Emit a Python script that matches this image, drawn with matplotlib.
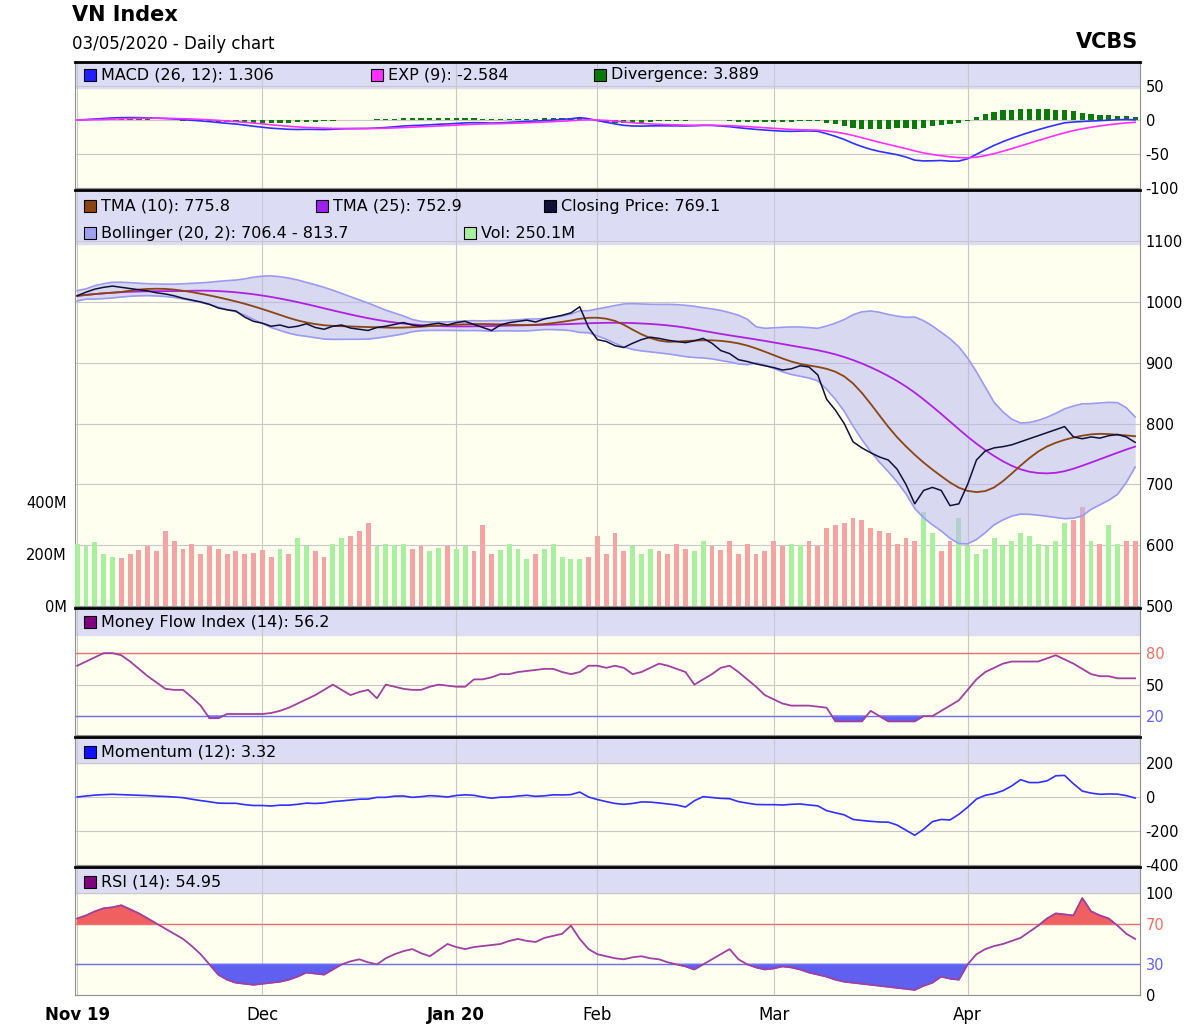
import numpy as np
import pandas as pd
import matplotlib
matplotlib.use("Agg")
import matplotlib.pyplot as plt
from matplotlib.patches import Rectangle
plt.rcParams["axes.unicode_minus"] = False

close = [1010,1016,1021,1024,1026,1024,1022,1020,1018,1015,
         1013,1010,1006,1003,1000,996,990,987,985,975,
         968,965,960,962,958,960,964,958,955,960,
         962,957,955,953,958,960,963,966,962,960,
         963,965,962,966,968,963,958,953,962,966,
         968,970,967,972,975,978,982,992,958,938,
         935,928,925,932,938,942,940,937,935,933,
         936,940,932,920,915,905,902,898,895,892,
         888,890,895,893,880,840,822,800,770,760,
         752,745,740,725,700,668,690,695,690,665,
         668,700,740,755,760,762,765,770,775,780,
         785,790,795,778,775,778,776,780,782,778,
         769]
volume = [240,230,245,200,190,185,200,215,230,210,
          290,250,220,240,200,230,220,200,210,200,
          205,215,190,220,200,260,230,210,190,240,
          260,270,290,320,230,240,235,240,220,230,
          210,225,230,220,230,210,310,200,215,240,
          220,180,200,220,240,190,180,180,190,270,
          200,280,210,230,200,220,210,200,240,220,
          210,250,230,215,250,200,240,200,210,250,
          230,240,235,250,230,300,310,320,340,330,
          300,290,280,240,260,250,360,280,210,250,
          340,230,200,220,260,230,250,280,270,240,
          230,250,320,330,380,250,240,310,240,250,
          250]
mfi = [68,72,76,80,80,78,72,65,58,52,
       46,45,45,38,30,18,18,22,22,22,
       22,22,23,25,28,32,36,40,45,50,
       45,40,43,45,37,50,48,46,45,45,
       48,50,49,48,48,55,55,57,60,60,
       62,63,64,65,65,62,60,62,68,68,
       66,68,66,60,62,66,70,68,65,62,
       50,55,60,66,68,62,55,48,40,36,
       32,30,30,30,29,28,15,15,15,15,
       25,20,15,15,15,15,20,20,25,30,
       35,45,55,62,66,70,72,72,72,72,
       75,78,74,70,65,60,58,58,56,56,
       56]
rsi = [75,78,82,85,86,88,84,80,75,70,
       65,60,55,48,40,30,20,15,12,11,
       10,11,12,13,15,18,22,21,20,25,
       30,33,35,32,30,36,40,43,45,41,
       38,44,50,47,45,47,48,49,50,53,
       55,53,52,56,58,60,68,55,45,40,
       38,36,35,37,38,36,35,32,30,28,
       25,30,35,40,45,35,30,27,25,26,
       28,27,25,22,20,18,15,13,12,11,
       10,9,8,7,6,5,9,12,18,16,
       15,30,40,45,48,50,53,56,62,68,
       75,80,79,78,95,82,78,75,68,60,
       55]
months = ["Nov 19", "Dec", "Jan 20", "Feb", "Mar", "Apr"]
month_idx = [0, 21, 43, 59, 79, 101]

s = pd.Series(close, dtype=float)
n = len(s)
x = np.arange(n)
tma10 = s.rolling(5, min_periods=1).mean().rolling(6, min_periods=1).mean()
tma25 = s.rolling(13, min_periods=1).mean().rolling(13, min_periods=1).mean()
ma20 = s.rolling(20, min_periods=1).mean()
sd20 = s.rolling(20, min_periods=2).std().bfill()
bu, bl = ma20 + 2*sd20, ma20 - 2*sd20
macd = s.ewm(span=12, adjust=False).mean() - s.ewm(span=26, adjust=False).mean()
sig = macd.ewm(span=9, adjust=False).mean()
div = macd - sig
mom = s - s.shift(12).bfill()

W, H = 1200, 1031
fig = plt.figure(figsize=(12, 10.31), dpi=100)
L, R = 75/W, 1140/W
def mkax(top, bot):
    return fig.add_axes([L, 1-bot/H, R-L, (bot-top)/H])
bg = "#fffff0"; band = "#dcdcf4"
panels = [(62, 188), (190, 606), (608, 735), (737, 865), (867, 995)]
axs = [mkax(t, b) for t, b in panels]
xl = (-0.25, n-1+0.55)

def style(ax, top, bot, strip_px, ticks, ylim, tcolors=None):
    ax.set_facecolor(bg)
    ax.set_xlim(*xl); ax.set_ylim(*ylim)
    frac = strip_px/(bot-top)
    ax.add_patch(Rectangle((0, 1-frac), 1, frac, transform=ax.transAxes, color=band, zorder=0.5))
    ax.yaxis.tick_right()
    ax.set_yticks(ticks)
    ax.tick_params(axis="y", length=0, labelsize=10.5, pad=4)
    ax.set_xticks(month_idx); ax.tick_params(axis="x", length=0, labelbottom=False)
    ax.grid(True, color="#c8c8c8", lw=0.8, zorder=0.6)
    ax.set_axisbelow(True)
    for sp in ax.spines.values(): sp.set_color("#909090"); sp.set_linewidth(0.8)
    ax.spines["top"].set_color("black"); ax.spines["top"].set_linewidth(2)
    if tcolors:
        for lab, c in zip(ax.get_yticklabels(), tcolors): lab.set_color(c)

def legend(ax, items, y, top, bot):
    yy = 1 - (y - top)/(bot-top)
    for xp, col, txt in items:
        ax.plot([xp+0.005], [yy], marker="s", ms=8, mfc=col, mec="black", mew=0.8,
                transform=ax.transAxes, clip_on=False, zorder=10)
        ax.text(xp+0.015, yy, txt, transform=ax.transAxes, fontsize=11.5, va="center", zorder=10)

def fx(px): return (px-75)/(1140-75)

# MACD
ax = axs[0]
style(ax, 62, 188, 26, [50, 0, -50, -100], (-100, 85))
ax.bar(x, div, width=0.6, color="#0a7a0a", zorder=2)
ax.plot(x, macd, color="#3030ff", lw=1.2, zorder=3)
ax.plot(x, sig, color="#ff30ff", lw=1.2, zorder=3)
legend(ax, [(fx(85), "#2020ff", "MACD (26, 12): 1.306"), (fx(372), "#ff30ff", "EXP (9): -2.584"),
            (fx(595), "#0a7a0a", "Divergence: 3.889")], 75, 62, 188)

# Main
ax = axs[1]
style(ax, 190, 606, 54, [500, 600, 700, 800, 900, 1000, 1100], (500, 1184))
av = ax.twinx(); av.set_ylim(0, 1600e6); av.set_xlim(*xl)
ax.yaxis.tick_right()
av.yaxis.tick_left(); av.set_yticks([0, 200e6, 400e6]); av.set_yticklabels(["0M", "200M", "400M"])
av.tick_params(axis="y", length=0, labelsize=10.5, pad=6)
for sp in av.spines.values(): sp.set_visible(False)
vcol = ["#a8f0a0" if (i == 0 or close[i] >= close[i-1]) else "#f4a4a4" for i in range(n)]
av.bar(x, np.array(volume)*1e6, width=0.55, color=vcol, zorder=1)
av.set_zorder(ax.get_zorder()+1); av.patch.set_visible(False)
av.fill_between(x, bl, bu, color="#b8b8f0", alpha=0.55, lw=0, transform=ax.transData, zorder=2)
av.plot(x, bu, color="#9a9af0", lw=1.2, transform=ax.transData, zorder=3)
av.plot(x, bl, color="#9a9af0", lw=1.2, transform=ax.transData, zorder=3)
av.plot(x, tma25, color="#b020e0", lw=1.3, transform=ax.transData, zorder=4)
av.plot(x, tma10, color="#8b4513", lw=1.3, transform=ax.transData, zorder=4)
av.plot(x, s, color="#101038", lw=1.1, transform=ax.transData, zorder=5)
legend(av, [(fx(85), "#8b4513", "TMA (10): 775.8"), (fx(317), "#a020f0", "TMA (25): 752.9"),
            (fx(545), "#101038", "Closing Price: 769.1")], 206, 190, 606)
legend(av, [(fx(85), "#a0a0f0", "Bollinger (20, 2): 706.4 - 813.7"), (fx(465), "#a8f0a0", "Vol: 250.1M")], 233, 190, 606)

# MFI
ax = axs[2]
style(ax, 608, 735, 27, [20, 50, 80], (2, 123), ["#6060ff", "black", "#f07060"])
ax.axhline(80, color="#f07070", lw=1); ax.axhline(20, color="#7070ff", lw=1)
m = np.array(mfi, float)
ax.fill_between(x, m, 20, where=m < 20, color="#6060f0", interpolate=True)
ax.fill_between(x, m, 80, where=m > 80, color="#f06060", interpolate=True)
ax.plot(x, m, color="#a040a0", lw=1.3)
legend(ax, [(fx(85), "#800080", "Money Flow Index (14): 56.2")], 622, 608, 735)

# Momentum
ax = axs[3]
style(ax, 737, 865, 26, [200, 0, -200, -400], (-400, 353))
ax.plot(x, mom, color="#3030ff", lw=1.2)
legend(ax, [(fx(85), "#1010ff", "Momentum (12): 3.32")], 752, 737, 865)

# RSI
ax = axs[4]
r = np.array(rsi, float)
style(ax, 867, 995, 26, [0, 30, 70, 100], (0, 125.5), ["black", "#6060ff", "#f07060", "black"])
ax.axhline(70, color="#f07070", lw=1); ax.axhline(30, color="#7070ff", lw=1)
ax.fill_between(x, r, 30, where=r < 30, color="#6060f0", interpolate=True)
ax.fill_between(x, r, 70, where=r > 70, color="#f06060", interpolate=True)
ax.plot(x, r, color="#a040a0", lw=1.3)
legend(ax, [(fx(85), "#800080", "RSI (14): 54.95")], 882, 867, 995)
ax.tick_params(axis="x", labelbottom=True, labelsize=12, pad=8)
ax.set_xticklabels(months)
for i, lab in enumerate(ax.get_xticklabels()):
    if months[i] in ("Nov 19", "Jan 20"): lab.set_fontweight("bold")

fig.text(72/W, 1-15/H, "VN Index", fontsize=15, fontweight="bold", va="center")
fig.text(72/W, 1-44/H, "03/05/2020 - Daily chart", fontsize=12, va="center")
fig.text(1138/W, 1-42/H, "VCBS", fontsize=15, fontweight="bold", va="center", ha="right")
fig.savefig("out.png", dpi=100, facecolor="white")
